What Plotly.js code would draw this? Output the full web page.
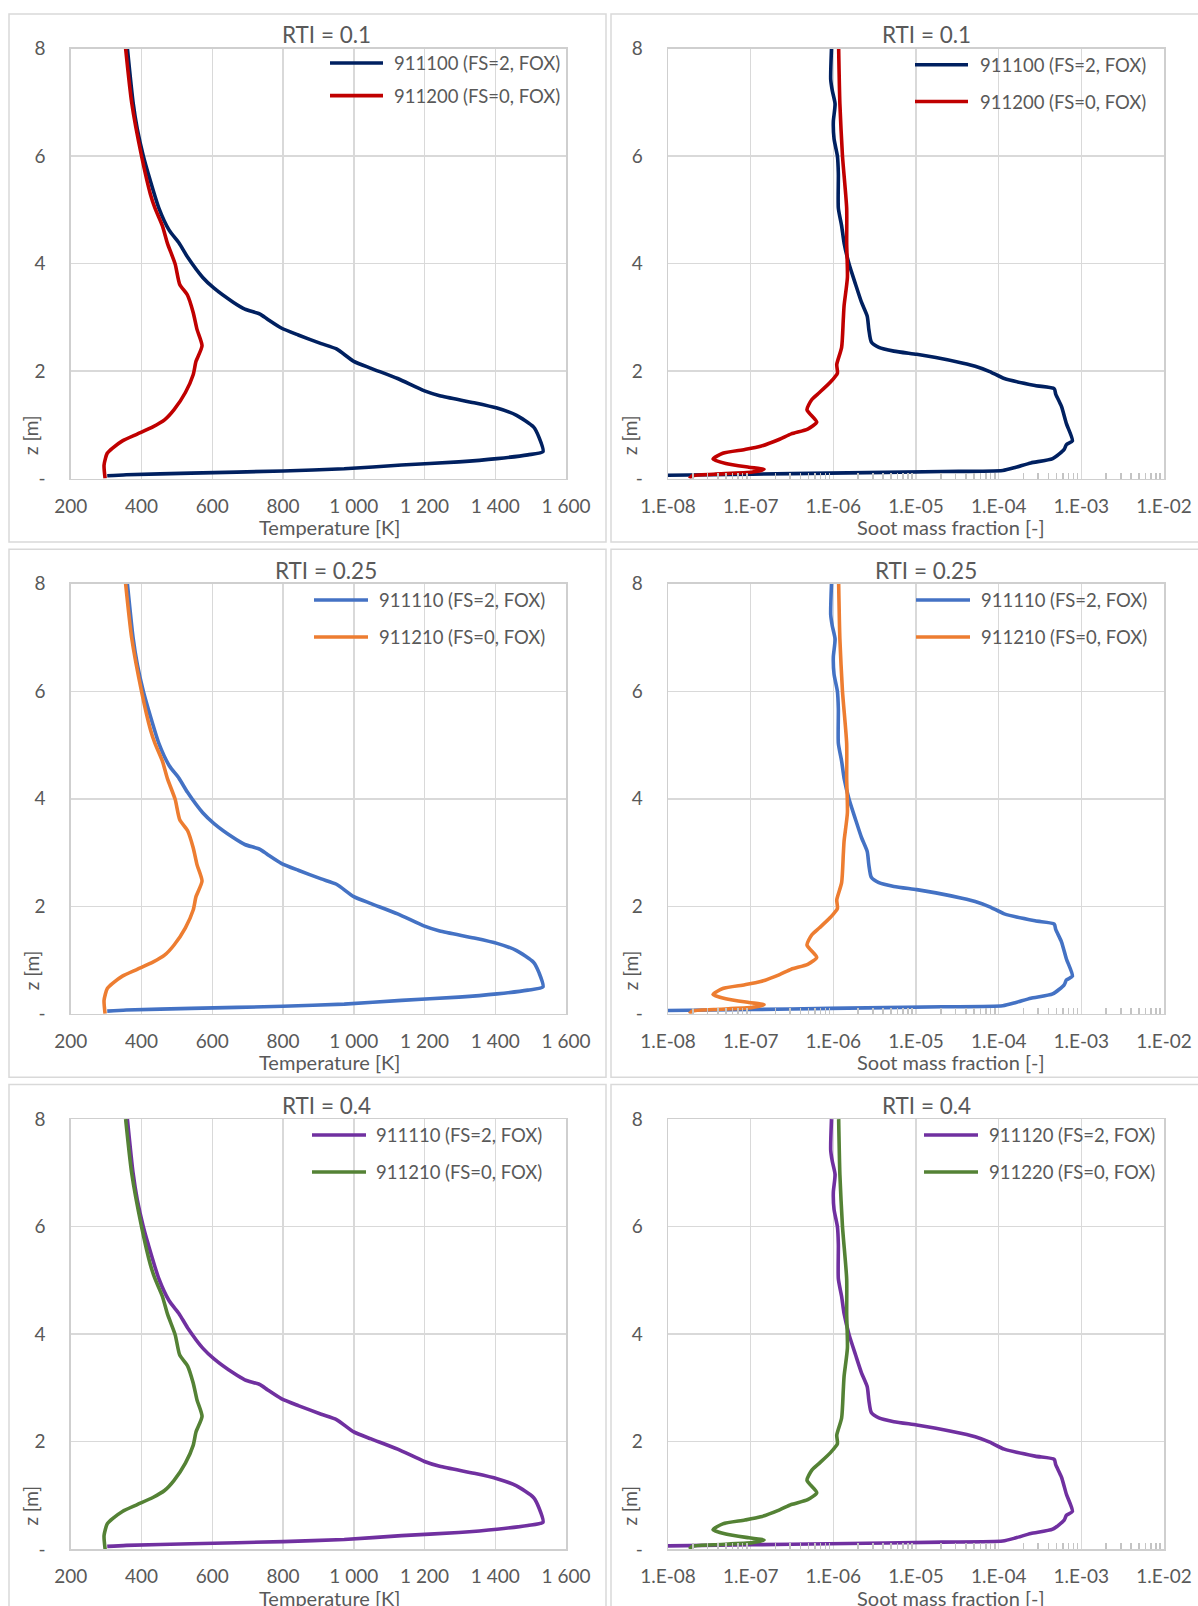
<!DOCTYPE html>
<html>
<head>
<meta charset="utf-8">
<script src="https://cdn.plot.ly/plotly-3.0.1.min.js"></script>
<style>
  html, body { margin: 0; padding: 0; background: #ffffff; }
  #chart { width: 1198px; height: 1606px; }
</style>
</head>
<body>
<div id="chart"></div>
<script>
// ---------------- DATA ----------------
const rtiLabels = ["RTI = 0.1", "RTI = 0.25", "RTI = 0.4"];

const tempSeriesNames = [
  ["911100 (FS=2, FOX)", "911200 (FS=0, FOX)"],
  ["911110 (FS=2, FOX)", "911210 (FS=0, FOX)"],
  ["911110 (FS=2, FOX)", "911210 (FS=0, FOX)"]
];
const sootSeriesNames = [
  ["911100 (FS=2, FOX)", "911200 (FS=0, FOX)"],
  ["911110 (FS=2, FOX)", "911210 (FS=0, FOX)"],
  ["911120 (FS=2, FOX)", "911220 (FS=0, FOX)"]
];

// Temperature profiles [K] vs height z [m]
const zTempFS2 = [8.00, 7.00, 6.50, 6.00, 5.67, 5.03, 4.62, 4.38, 4.12, 3.74, 3.54, 3.28, 3.15, 3.06, 2.96, 2.80, 2.67, 2.51, 2.41, 2.18, 2.05, 1.86, 1.63, 1.54, 1.41, 1.31, 1.18, 0.96, 0.76, 0.50, 0.44, 0.37, 0.31, 0.25, 0.18, 0.14, 0.10, 0.07, 0.05];
const tempFS2  = [360, 376, 388, 405, 419, 449, 478, 506, 530, 573, 605, 659, 692, 735, 757, 795, 843, 908, 951, 1000, 1049, 1124, 1200, 1243, 1340, 1405, 1459, 1508, 1524, 1535, 1492, 1405, 1297, 1135, 973, 800, 540, 357, 303];

const zTempFS0 = [8.00, 7.00, 6.00, 5.29, 5.03, 4.70, 4.38, 3.99, 3.61, 3.41, 3.09, 2.77, 2.47, 2.18, 1.93, 1.60, 1.28, 1.09, 0.96, 0.83, 0.70, 0.57, 0.47, 0.25, 0.00];
const tempFS0  = [355, 372, 400, 425, 438, 459, 473, 495, 508, 530, 546, 557, 571, 554, 546, 524, 492, 465, 432, 389, 346, 319, 303, 294, 297];

// Soot mass fraction [-] vs height z [m]
const zSootFS2 = [8.00, 7.42, 7.22, 6.97, 6.64, 6.32, 6.00, 5.67, 5.03, 4.70, 4.38, 3.99, 3.61, 3.28, 3.02, 2.77, 2.54, 2.44, 2.37, 2.31, 2.25, 2.15, 2.09, 1.99, 1.86, 1.73, 1.67, 1.57, 1.34, 1.02, 0.70, 0.63, 0.54, 0.37, 0.29, 0.21, 0.15, 0.13, 0.10, 0.08, 0.06];
const sootFS2  = [9.5e-7, 9.3e-7, 9.7e-7, 1.05e-6, 1.0e-6, 1.02e-6, 1.12e-6, 1.15e-6, 1.15e-6, 1.26e-6, 1.35e-6, 1.55e-6, 1.86e-6, 2.19e-6, 2.57e-6, 2.69e-6, 2.88e-6, 3.55e-6, 5.4e-6, 1.02e-5, 1.74e-5, 3.6e-5, 5.2e-5, 7.8e-5, 1.17e-4, 2.75e-4, 4.7e-4, 4.9e-4, 5.75e-4, 6.6e-4, 7.8e-4, 6.6e-4, 6.2e-4, 4.5e-4, 2.45e-4, 1.62e-4, 1.12e-4, 2.1e-5, 8.9e-7, 1.05e-7, 9.0e-9];

const zSootFS0 = [8.00, 6.97, 6.00, 5.03, 4.38, 3.74, 3.22, 2.96, 2.44, 2.12, 1.96, 1.80, 1.60, 1.47, 1.28, 1.05, 0.92, 0.83, 0.73, 0.60, 0.54, 0.47, 0.36, 0.28, 0.21, 0.17, 0.12, 0.08, 0.05, 0.00];
const sootFS0  = [1.16e-6, 1.2e-6, 1.29e-6, 1.45e-6, 1.45e-6, 1.48e-6, 1.35e-6, 1.32e-6, 1.26e-6, 1.10e-6, 1.12e-6, 9.3e-7, 6.8e-7, 5.5e-7, 4.8e-7, 6.3e-7, 4.9e-7, 3.1e-7, 2.24e-7, 1.32e-7, 8.5e-8, 4.6e-8, 3.5e-8, 5.0e-8, 9.5e-8, 1.45e-7, 1.05e-7, 3.6e-8, 1.95e-8, 1.82e-8];

// Tick labels
const zTickVals = [0, 2, 4, 6, 8];
const zTickText = ["-", "2", "4", "6", "8"];
const sootTickVals = [1e-8, 1e-7, 1e-6, 1e-5, 1e-4, 1e-3, 1e-2];
const sootTickText = ["1.E-08", "1.E-07", "1.E-06", "1.E-05", "1.E-04", "1.E-03", "1.E-02"];

// ---------------- STYLE / LAYOUT ----------------
const rowColors = [
  ["#002060", "#C00000"],
  ["#4472C4", "#ED7D31"],
  ["#7030A0", "#548235"]
];
const W = 1198, H = 1606;
const FONT = "Lato, 'Open Sans', sans-serif";
const TXT = "#595959";
const GRID = "#d9d9d9";
const px = x => x / W;
const py = y => 1 - y / H;
const rowOff = [0, 535.3, 1070.6];
const colX = [[70.8, 566], [668, 1164]];

const minorVals = [];
for (let e = -8; e < -2; e++) {
  for (let d = 2; d <= 9; d++) minorVals.push(d * Math.pow(10, e));
}

const traces = [];
const layout = {
  width: W, height: H,
  margin: {l: 0, r: 0, t: 0, b: 0},
  paper_bgcolor: "#ffffff",
  plot_bgcolor: "#ffffff",
  showlegend: false,
  separators: ". ",
  font: {family: FONT, color: TXT},
  shapes: [],
  annotations: []
};

const legendPos = [
  [{x0: 330, x1: 383, y: [63, 95.6], tx: 392}, {x0: 915, x1: 968, y: [64.7, 101.5], tx: 977.6}],
  [{x0: 314, x1: 368, y: [600, 637], tx: 377}, {x0: 916, x1: 970, y: [600, 637], tx: 979}],
  [{x0: 312, x1: 366, y: [1135, 1172], tx: 374}, {x0: 924, x1: 978, y: [1135, 1172], tx: 987}]
];

for (let r = 0; r < 3; r++) {
  const off = rowOff[r];
  const yDom = [py(478.5 + off), py(48.5 + off)];
  for (let c = 0; c < 2; c++) {
    const i = r * 2 + c + 1;
    const xa = "xaxis" + (i === 1 ? "" : i), ya = "yaxis" + (i === 1 ? "" : i);
    const xr = "x" + (i === 1 ? "" : i), yr = "y" + (i === 1 ? "" : i);
    const common = {
      domain: [px(colX[c][0]), px(colX[c][1])],
      anchor: yr,
      showgrid: true, gridcolor: GRID, gridwidth: 1.5,
      showline: true, linecolor: "#cfcfcf", linewidth: 1.5, mirror: true,
      zeroline: false, ticks: "",
      tickfont: {family: FONT, size: 19, color: TXT},
      ticklabelstandoff: 10,
      fixedrange: true
    };
    if (c === 0) {
      layout[xa] = Object.assign({}, common, {
        type: "linear", range: [200, 1600], tick0: 200, dtick: 200, tickformat: ","
      });
    } else {
      layout[xa] = Object.assign({}, common, {
        type: "log", range: [-8, -2], tickmode: "array",
        tickvals: sootTickVals, ticktext: sootTickText,
        minor: {tickmode: "array", tickvals: minorVals, ticks: "inside", ticklen: 6, tickwidth: 1.5, tickcolor: "#c4c4c4", showgrid: false}
      });
    }
    layout[ya] = {
      domain: yDom, anchor: xr, range: [0, 8],
      tickmode: "array", tickvals: zTickVals, ticktext: zTickText,
      showgrid: true, gridcolor: GRID, gridwidth: 1.5,
      showline: true, linecolor: "#cfcfcf", linewidth: 1.5, mirror: true,
      zeroline: false, ticks: "",
      tickfont: {family: FONT, size: 19, color: TXT},
      ticklabelstandoff: 20,
      fixedrange: true
    };

    // traces
    const names = c === 0 ? tempSeriesNames[r] : sootSeriesNames[r];
    const xs = c === 0 ? [tempFS2, tempFS0] : [sootFS2, sootFS0];
    const zs = c === 0 ? [zTempFS2, zTempFS0] : [zSootFS2, zSootFS0];
    for (let s = 0; s < 2; s++) {
      traces.push({
        type: "scatter", mode: "lines",
        x: xs[s], y: zs[s], xaxis: xr, yaxis: yr,
        name: names[s],
        line: {color: rowColors[r][s], width: 3.6, shape: "spline", smoothing: 0.6},
        hoverinfo: "x+y+name"
      });
      // manual legend entry
      const lp = legendPos[r][c];
      layout.shapes.push({
        type: "line", xref: "paper", yref: "paper",
        x0: px(lp.x0), x1: px(lp.x1), y0: py(lp.y[s]), y1: py(lp.y[s]),
        line: {color: rowColors[r][s], width: 3.6}
      });
      layout.annotations.push({
        xref: "paper", yref: "paper", x: px(lp.tx), y: py(lp.y[s]),
        xanchor: "left", yanchor: "middle", showarrow: false,
        text: names[s], font: {family: FONT, size: 18.5, color: TXT}
      });
    }

    // panel border
    const pb = c === 0 ? [9, 606] : [611, 1201];
    layout.shapes.push({
      type: "rect", xref: "paper", yref: "paper", layer: "below",
      x0: px(pb[0]), x1: px(pb[1]), y0: py(542 + off), y1: py(14 + off),
      line: {color: GRID, width: 1.5}, fillcolor: "rgba(0,0,0,0)"
    });

    // chart title
    const titleX = c === 0 ? 326 : 926;
    layout.annotations.push({
      xref: "paper", yref: "paper", x: px(titleX), y: py(35 + off),
      xanchor: "center", yanchor: "middle", showarrow: false,
      text: rtiLabels[r], font: {family: FONT, size: 22.5, color: TXT}
    });
    // x axis title
    layout.annotations.push({
      xref: "paper", yref: "paper", x: px(c === 0 ? 329 : 951), y: py(527 + off),
      xanchor: "center", yanchor: "middle", showarrow: false,
      text: c === 0 ? "Temperature [K]" : "Soot mass fraction [-]",
      font: {family: FONT, size: 20, color: TXT}
    });
    // y axis title
    layout.annotations.push({
      xref: "paper", yref: "paper", x: px(c === 0 ? 31 : 630), y: py(435 + off),
      xanchor: "center", yanchor: "middle", showarrow: false, textangle: -90,
      text: "z [m]", font: {family: FONT, size: 19, color: TXT}
    });
  }
}

Plotly.newPlot("chart", traces, layout, {displayModeBar: false, staticPlot: true});
</script>
</body>
</html>
